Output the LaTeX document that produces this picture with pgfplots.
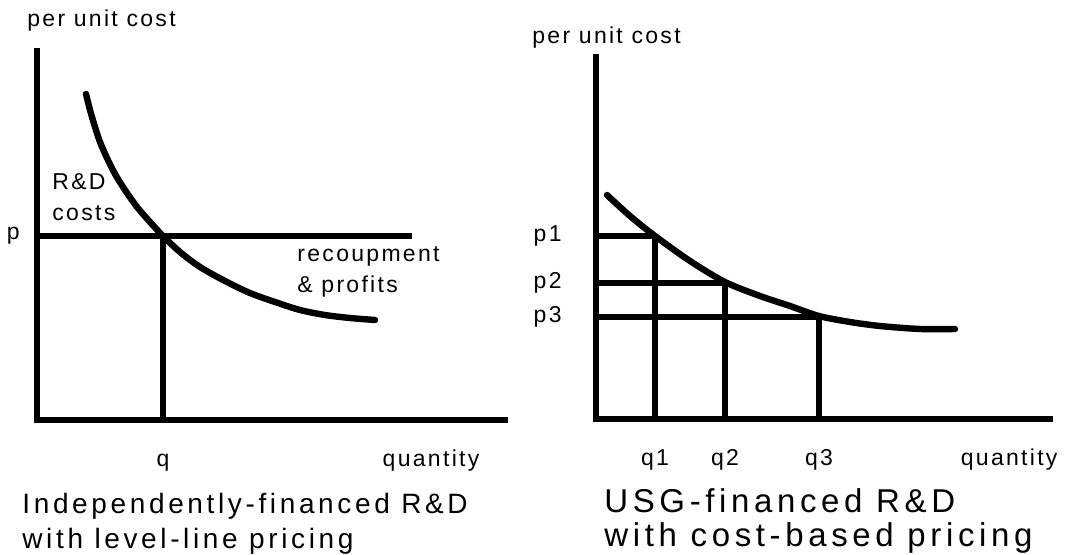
\documentclass[border=0pt]{standalone}
\usepackage{pgfplots}
\pgfplotsset{compat=1.18}
\usepackage{fontspec}
\setmainfont{Liberation Sans}
\newfontfamily\lblfont[LetterSpace=10]{Liberation Sans}
\newfontfamily\ttlfont[LetterSpace=13]{Liberation Sans}
\newfontfamily\ttlfontb[LetterSpace=14]{Liberation Sans}

\pgfplotsset{
  diag/.style={
    scale only axis,
    axis x line=bottom, axis y line=left,
    axis line style={-, line width=3.4pt, line cap=rect},
    xmin=0, ymin=0,
    major tick length=0pt,
    tick style={draw=none},
    tick label style={font=\lblfont\fontsize{11.5}{14}\selectfont},
    label style={font=\lblfont\fontsize{11.5}{14}\selectfont},
    xticklabel style={anchor=base, yshift=-23pt},
    yticklabel style={anchor=east, inner sep=0pt},
    ylabel style={rotate=-90, at={(axis description cs:0,1)}, anchor=base west, inner sep=0pt},
    xlabel style={anchor=base, inner sep=0pt},
    clip=false,
  },
  curve/.style={black, line width=3.2pt, smooth, line cap=round},
  guide/.style={black, line width=2.6pt},
}

\begin{document}
\begin{tikzpicture}
\path (0pt,0pt) rectangle (534.5pt,-277.5pt);

% ---------------- left panel ----------------
\begin{axis}[diag,
  at={(18.5pt,-210pt)}, anchor=south west,
  width=234pt, height=184.5pt,
  xmax=468, ymax=369,
  xtick={126}, xticklabels={q},
  ytick={184}, yticklabels={p},
  yticklabel style={xshift=-8.5pt},
  ylabel={per unit cost},
  ylabel style={xshift=-5pt, yshift=12pt},
  xlabel={quantity},
  xlabel style={at={(axis description cs:0.842,0)}, yshift=-23pt},
]
\addplot[curve] coordinates {
  (49,326) (53,310) (58,293) (63,278) (70,262) (78,246) (88,230)
  (100,213) (113,198) (126,184) (143,168) (163,153) (188,139)
  (213,127) (238,118) (263,110) (288,105) (313,102) (338,100)
};
\addplot[guide] coordinates {(0,184) (375,184)};
\addplot[guide] coordinates {(126,184) (126,0)};
\node[anchor=west, align=left, inner sep=0pt,
      font=\lblfont\fontsize{11.5}{15.5}\selectfont] at (axis cs:15,223) {R\&D\\costs};
\node[anchor=west, align=left, inner sep=0pt,
      font=\lblfont\fontsize{11.5}{15.5}\selectfont] at (axis cs:260,148) {recoupment\\\& profits};
\end{axis}

% ---------------- right panel ----------------
\begin{axis}[diag,
  at={(298pt,-209.5pt)}, anchor=south west,
  width=227pt, height=181pt,
  xmax=454, ymax=362,
  xtick={59,129,223}, xticklabels={q1,q2,q3},
  ytick={102,136,183}, yticklabels={\raisebox{-3.5pt}{p3},p2,p1},
  yticklabel style={xshift=-17pt},
  ylabel={per unit cost},
  ylabel style={xshift=-32pt, yshift=6.5pt},
  xlabel={quantity},
  xlabel style={at={(axis description cs:0.91,0)}, yshift=-23pt},
]
\addplot[curve] coordinates {
  (11,224) (34,203) (59,183) (94,158) (129,137) (164,123) (194,113)
  (223,103) (254,97) (284,93) (324,90) (359,90)
};
\addplot[guide] coordinates {(0,183) (59,183)};
\addplot[guide] coordinates {(0,136) (129,136)};
\addplot[guide] coordinates {(0,102) (223,102)};
\addplot[guide] coordinates {(59,183) (59,0)};
\addplot[guide] coordinates {(129,136) (129,0)};
\addplot[guide] coordinates {(223,102) (223,0)};
\end{axis}

% ---------------- captions ----------------
\node[anchor=base west, inner sep=0pt, font=\ttlfont\fontsize{14}{17}\selectfont]
  at (11pt,-256.5pt) {Independently-financed R\&D};
\node[anchor=base west, inner sep=0pt, font=\ttlfont\fontsize{14}{17}\selectfont]
  at (11pt,-274pt) {with level-line pricing};
\node[anchor=base west, inner sep=0pt, font=\ttlfontb\fontsize{16.5}{19}\selectfont]
  at (302pt,-256pt) {USG-financed R\&D};
\node[anchor=base west, inner sep=0pt, font=\ttlfontb\fontsize{16.5}{19}\selectfont]
  at (302pt,-273pt) {with cost-based pricing};
\end{tikzpicture}
\end{document}
